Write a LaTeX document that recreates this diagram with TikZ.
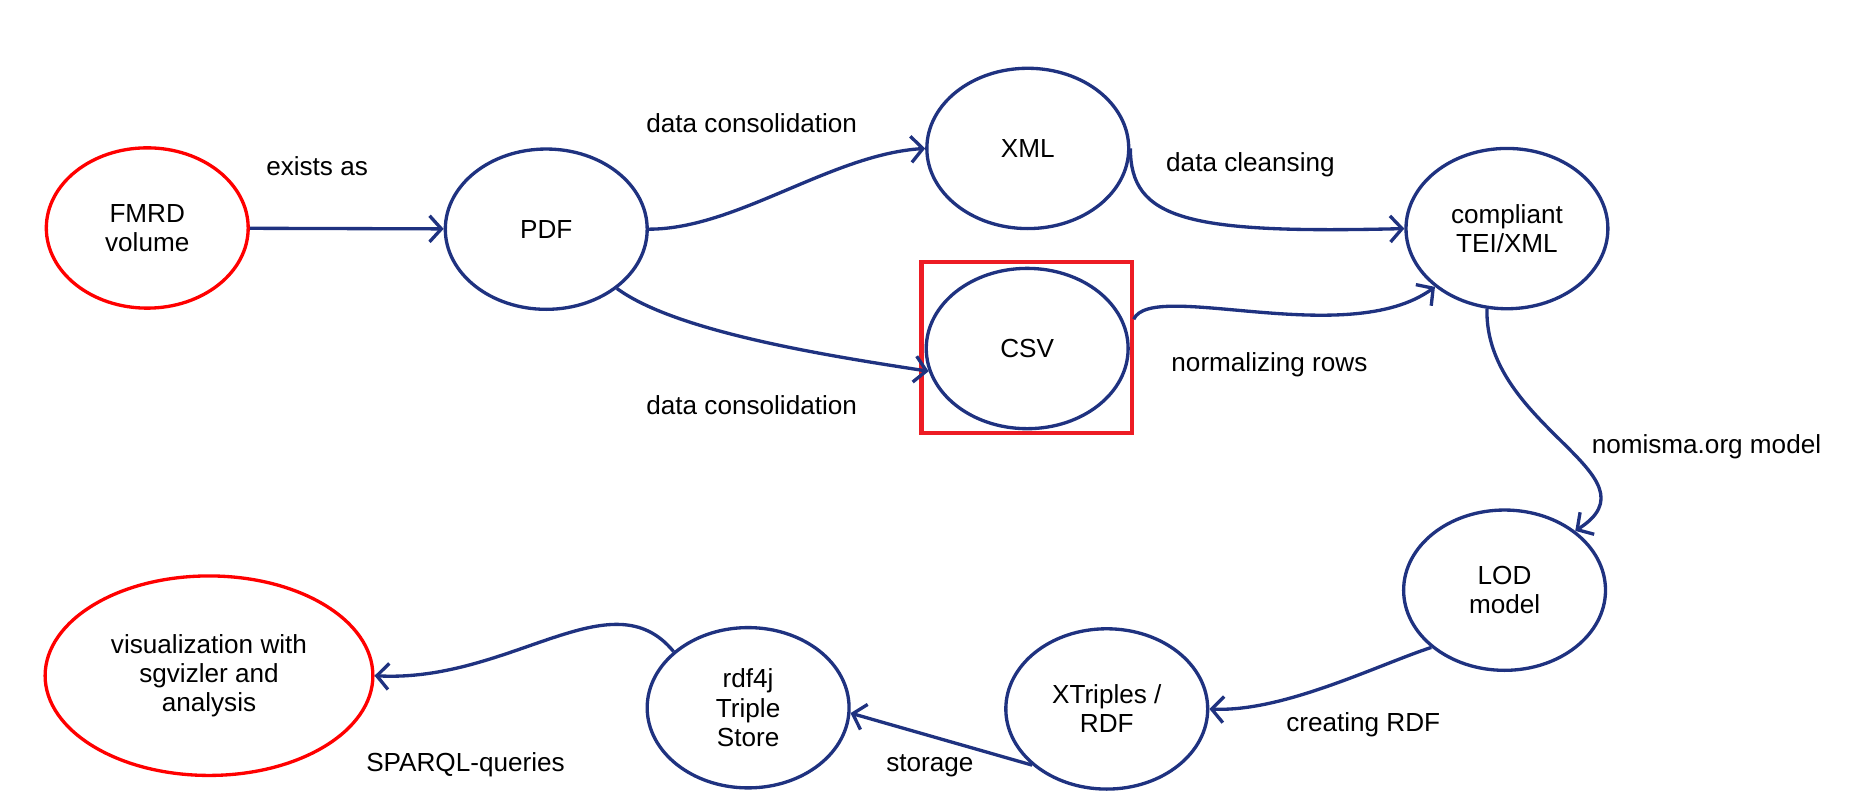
\documentclass[tikz,border=0pt]{standalone}
\usepackage{fontspec}
\setmainfont{Liberation Sans}
\usetikzlibrary{shapes.geometric,arrows.meta}
\definecolor{flowblue}{RGB}{31,50,128}
\definecolor{endred}{RGB}{255,0,0}
\definecolor{boxred}{RGB}{237,28,36}

\begin{document}
\begin{tikzpicture}[x=0.5pt,y=-0.5pt,
    stage/.style={ellipse,draw=flowblue,line width=1.4pt,inner sep=0pt,minimum width=85pt,minimum height=67.5pt,align=center,font=\fontsize{11}{12.25}\selectfont},
    ends/.style={stage,draw=endred},
    flow/.style={draw=flowblue,line width=1.4pt,-{Straight Barb[length=5pt,width=11pt]}},
    lbl/.style={font=\fontsize{11}{13}\selectfont}]
    \useasboundingbox (0,0) rectangle (1568,683);
    % stages
    \node[ends] (fmrd) at (124,192) {FMRD\\volume};
    \node[stage] (pdf) at (460,193) {PDF};
    \node[stage] (xml) at (865.5,125) {XML};
    \node[stage] (csv) at (865,293.5) {CSV};
    \node[draw=boxred,line width=1.7pt,minimum width=88.5pt,minimum height=72pt,inner sep=0pt] (csvbox) at (864.5,293) {};
    \node[stage] (tei) at (1269,192.5) {compliant\\TEI/XML};
    \node[stage] (lod) at (1267,497) {LOD\\model};
    \node[stage] (xtr) at (932,597) {XTriples /\\RDF};
    \node[stage] (rdf) at (630,596) {rdf4j\\Triple\\Store};
    \node[ends,minimum width=138pt,minimum height=84pt] (viz) at (176,569) {visualization with\\sgvizler and\\analysis};
    % steps
    \draw[flow] (fmrd) -- (pdf);
    \draw[flow] (pdf.east) .. controls (620,193) and (700,130) .. (xml.west);
    \draw[flow] (pdf.-40) .. controls (570,280) and (700,300) .. (csv.193);
    \draw[flow] (xml.east) .. controls (952,185) and (1000,197) .. (tei.west);
    \draw[flow] (csvbox.15) .. controls (970,235) and (1135,295) .. (tei.-141);
    \draw[flow] (tei.-104) .. controls (1250,360) and (1400,400) .. (lod.40);
    \draw[flow] (lod.-142) .. controls (1160,560) and (1080,600) .. (xtr.east);
    \draw[flow] (xtr.-143) -- (rdf.-3);
    \draw[flow] (rdf.143) .. controls (515,485) and (430,575) .. (viz.east);
    % labels
    \node[lbl] (lexists) at (267,140) {exists as};
    \node[lbl] (lconsxml) at (633,104) {data consolidation};
    \node[lbl] (lconscsv) at (633,341) {data consolidation};
    \node[lbl] (lcleans) at (1053,139) {data cleansing};
    \node[lbl] (lnormal) at (1069,307) {normalizing rows};
    \node[lbl] (lnomisma) at (1437,376) {nomisma.org model};
    \node[lbl] (lrdf) at (1148,610) {creating RDF};
    \node[lbl] (lstore) at (783,645) {storage};
    \node[lbl] (lsparql) at (392,644) {SPARQL-queries};
\end{tikzpicture}
\end{document}
